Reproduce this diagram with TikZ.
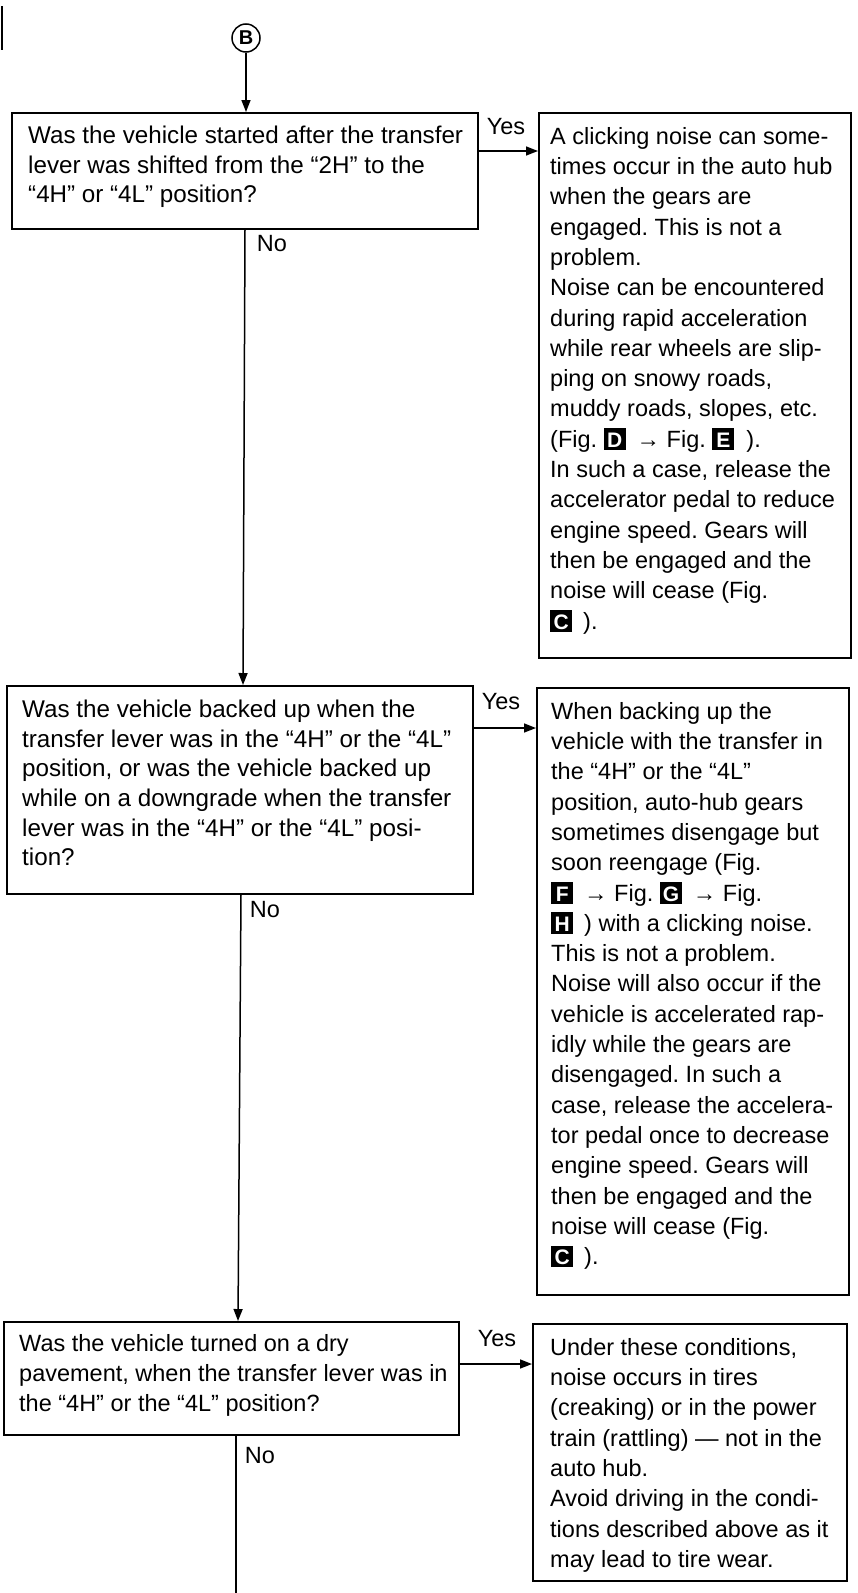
\documentclass[tikz,border=0pt]{standalone}
\usepackage{fontspec}
\setmainfont{Liberation Sans}
\usetikzlibrary{arrows.meta}
\frenchspacing
\newcommand{\fg}[1]{\mbox{\rlap{\rule[-2.5pt]{22pt}{21.5pt}}\makebox[22pt]{\color{white}\fontsize{21}{21}\selectfont\bfseries #1}}}
\begin{document}
\begin{tikzpicture}[x=1pt,y=-1pt,
  box/.style={draw, line width=1.6pt, inner sep=0pt, anchor=north west},
  txt/.style={anchor=north west, inner sep=0pt, align=left, font=\fontsize{23.5}{30.3}\selectfont},
  qtxt/.style={txt, font=\fontsize{24.2}{29.6}\selectfont},
  lbl/.style={inner sep=0pt, font=\fontsize{23.5}{30}\selectfont},
  arr/.style={line width=1.5pt, -{Triangle[length=12pt,width=9pt]}},
  ln/.style={line width=1.5pt}]
\useasboundingbox (0,0) rectangle (858,1593);
\draw[line width=2pt] (2,6) -- (2,50);
% start symbol
\node[circle, draw, line width=1.5pt, minimum size=28pt, inner sep=0pt, font=\fontsize{20}{20}\selectfont\bfseries] (b) at (246,38) {B};
% question 1 and answer 1
\node[box, minimum width=466pt, minimum height=116pt] (q1) at (11,112) {};
\node[qtxt] (q1t) at (28,126) {Was the vehicle started after the transfer\\lever was shifted from the “2H” to the\\“4H” or “4L” position?};
\node[box, minimum width=312pt, minimum height=545pt] (a1) at (538,112) {};
\node[txt] (a1t) at (550,127) {A clicking noise can some-\\times occur in the auto hub\\when the gears are\\engaged. This is not a\\problem.\\Noise can be encountered\\during rapid acceleration\\while rear wheels are slip-\\ping on snowy roads,\\muddy roads, slopes, etc.\\(Fig. \fg{D}\hspace{11pt}→ Fig. \fg{E}\hspace{12pt}).\\In such a case, release the\\accelerator pedal to reduce\\engine speed. Gears will\\then be engaged and the\\noise will cease (Fig.\\\fg{C}\hspace{11pt}).};
% question 2 and answer 2
\node[box, minimum width=466pt, minimum height=208pt] (q2) at (6,685) {};
\node[qtxt] (q2t) at (22,700) {Was the vehicle backed up when the\\transfer lever was in the “4H” or the “4L”\\position, or was the vehicle backed up\\while on a downgrade when the transfer\\lever was in the “4H” or the “4L” posi-\\tion?};
\node[box, minimum width=312pt, minimum height=607pt] (a2) at (536,687) {};
\node[txt] (a2t) at (551,702) {When backing up the\\vehicle with the transfer in\\the “4H” or the “4L”\\position, auto-hub gears\\sometimes disengage but\\soon reengage (Fig.\\\fg{F}\hspace{11pt}→ Fig. \fg{G}\hspace{11pt}→ Fig.\\\fg{H}\hspace{11pt}) with a clicking noise.\\This is not a problem.\\Noise will also occur if the\\vehicle is accelerated rap-\\idly while the gears are\\disengaged. In such a\\case, release the accelera-\\tor pedal once to decrease\\engine speed. Gears will\\then be engaged and the\\noise will cease (Fig.\\\fg{C}\hspace{11pt}).};
% question 3 and answer 3
\node[box, minimum width=455pt, minimum height=113pt] (q3) at (3,1321) {};
\node[txt] (q3t) at (19,1334) {Was the vehicle turned on a dry\\pavement, when the transfer lever was in\\the “4H” or the “4L” position?};
\node[box, minimum width=314pt, minimum height=257pt] (a3) at (532,1323) {};
\node[txt] (a3t) at (550,1338) {Under these conditions,\\noise occurs in tires\\(creaking) or in the power\\train (rattling) — not in the\\auto hub.\\Avoid driving in the condi-\\tions described above as it\\may lead to tire wear.};
% labels
\node[lbl] (yes1) at (506,127) {Yes};
\node[lbl] (no1) at (272,244) {No};
\node[lbl] (yes2) at (501,702) {Yes};
\node[lbl] (no2) at (265,910) {No};
\node[lbl] (yes3) at (497,1339) {Yes};
\node[lbl] (no3) at (260,1456) {No};
% connectors
\draw[arr] (b.south) -- ([xshift=235pt]q1.north west);
\coordinate (y1) at ([yshift=-39pt]q1.north east);
\draw[arr] (y1) -- (y1 -| a1.west);
\coordinate (n1) at ([xshift=234pt]q1.south west);
\draw[arr] (n1) -- ([xshift=237pt]q2.north west);
\coordinate (y2) at ([yshift=-43pt]q2.north east);
\draw[arr] (y2) -- (y2 -| a2.west);
\coordinate (n2) at ([xshift=235pt]q2.south west);
\draw[arr] (n2) -- ([xshift=235pt]q3.north west);
\coordinate (y3) at ([yshift=-43pt]q3.north east);
\draw[arr] (y3) -- (y3 -| a3.west);
\coordinate (n3) at ([xshift=233pt]q3.south west);
\coordinate (bot) at (236,1593);
\draw[ln] (n3) -- (bot);
\end{tikzpicture}
\end{document}
